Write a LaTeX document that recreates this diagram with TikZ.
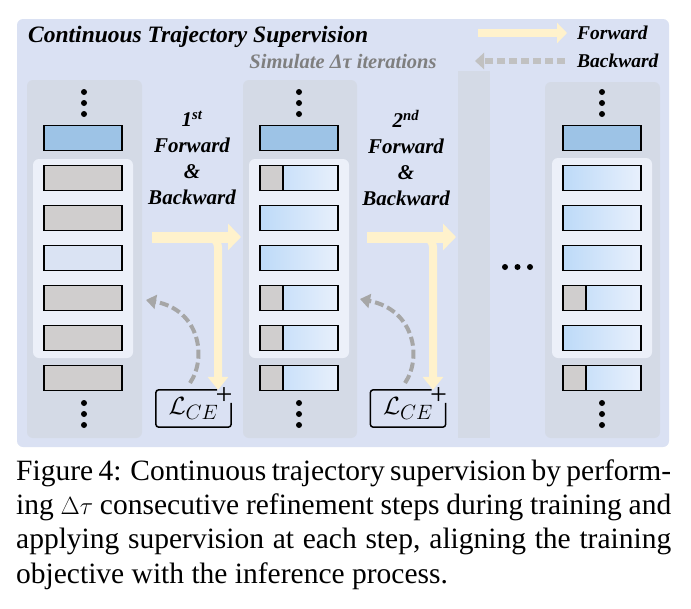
\documentclass[tikz,border=0pt]{standalone}
\usepackage{fontspec}
\setmainfont{Liberation Serif}
\usetikzlibrary{arrows.meta,positioning}

\definecolor{cpanel}{HTML}{DAE1F3}
\definecolor{ccol}{HTML}{D4DAE6}
\definecolor{cinner}{HTML}{ECF0F9}
\definecolor{cblue}{HTML}{9DC3E6}
\definecolor{cgray}{HTML}{D0CECE}
\definecolor{cpale}{HTML}{DAE3F3}
\definecolor{cgradl}{HTML}{BDDAF8}
\definecolor{cgradr}{HTML}{E8F0FC}
\definecolor{cyel}{HTML}{FFF2CC}
\definecolor{carr}{HTML}{A6A6A6}
\definecolor{csim}{HTML}{7F7F7F}

\begin{document}
\begin{tikzpicture}[
    x=1pt, y=-1pt,
    tok/.style={draw=black, line width=1.5pt, minimum width=78pt, minimum height=25pt, inner sep=0pt},
    tblue/.style={tok, fill=cblue},
    tgray/.style={tok, fill=cgray},
    tpale/.style={tok, fill=cpale},
    tgrad/.style={tok, left color=cgradl, right color=cgradr},
    tsplit/.style={tgrad, path picture={
        \fill[cgray] (path picture bounding box.south west) rectangle ([xshift=23pt]path picture bounding box.north west);
        \draw[line width=1.5pt] ([xshift=23pt]path picture bounding box.south west) -- ([xshift=23pt]path picture bounding box.north west);}},
    bold/.style={font=\fontsize{19.5}{22}\selectfont\bfseries\itshape},
    steptext/.style={align=center, font=\fontsize{21}{26}\selectfont\bfseries\itshape},
    fwd/.style={draw=cyel, line width=11pt, -{Triangle[length=13pt,width=26pt]}},
    fwdv/.style={draw=cyel, line width=8pt, rounded corners=10pt, -{Triangle[length=13pt,width=20pt]}},
    back/.style={draw=carr, line width=4pt, dash pattern=on 9pt off 4pt, -{Triangle[length=10pt,width=14pt]}},
    lossbox/.style={minimum width=75pt, minimum height=37pt, inner sep=0pt, font=\fontsize{28}{28}\selectfont},
    caption/.style={anchor=base west, inner sep=0pt, font=\fontsize{29.5}{34}\selectfont}
]
    \useasboundingbox (0,0) rectangle (691,608);

    % backgrounds
    \fill[cpanel, rounded corners=6pt] (17,19) rectangle (669,447);
    \fill[ccol, rounded corners=6pt] (27,80) rectangle (142,438);
    \fill[ccol, rounded corners=6pt] (243,80) rectangle (357,438);
    \fill[ccol] (458,71) rectangle (490,438);
    \fill[ccol, rounded corners=6pt] (545,82) rectangle (660,438);
    \fill[cinner, rounded corners=6pt] (33,159) rectangle (133,358);
    \fill[cinner, rounded corners=6pt] (249,159) rectangle (349,358);
    \fill[cinner, rounded corners=6pt] (552,158) rectangle (652,358);

    \node[anchor=base west, inner sep=0pt, font=\fontsize{23.5}{27}\selectfont\bfseries\itshape] (title) at (28,42) {Continuous Trajectory Supervision};
    \node[font=\fontsize{20.5}{24}\selectfont\bfseries\itshape, text=csim, inner sep=0pt] (sim) at (343,62) {Simulate Δτ iterations};

    % legend
    \node[bold, anchor=west, inner sep=0pt] (lfwd) at (577,33) {Forward};
    \node[bold, anchor=west, inner sep=0pt] (lback) at (577,61) {Backward};
    \coordinate (lf1) at (478,33);
    \coordinate (lb1) at (565,61);
    \coordinate (lb2) at (475,61);
    \draw[draw=cyel, line width=8pt, -{Triangle[length=10pt,width=20pt]}] (lf1) -- ([xshift=-10pt]lfwd.west);
    \draw[draw=carr!70, line width=6pt, dash pattern=on 8pt off 4pt, -{Triangle[length=9pt,width=16pt]}] (lb1) -- (lb2);

    % token columns
    \foreach \s [count=\i] in {tblue,tgray,tgray,tpale,tgray,tgray,tgray}
        \node[\s] (a\i) at (83,{98+40*\i}) {};
    \foreach \s [count=\i] in {tblue,tsplit,tgrad,tgrad,tsplit,tsplit,tsplit}
        \node[\s] (b\i) at (299,{98+40*\i}) {};
    \foreach \s [count=\i] in {tblue,tgrad,tgrad,tgrad,tsplit,tgrad,tsplit}
        \node[\s] (c\i) at (602,{98+40*\i}) {};

    \foreach \x in {84,299,602}
        \foreach \y in {92,103,114,403,414,425}
            \fill (\x,\y) circle (3pt);
    \foreach \x in {505,517.5,530}
        \fill (\x,267) circle (3pt);

    % steps
    \node[steptext] (step1) at (192,158) {1\textsuperscript{st}\\Forward\\\&\\Backward};
    \node[steptext] (step2) at (406,158) {2\textsuperscript{nd}\\Forward\\\&\\Backward};

    \node[lossbox] (loss1) at (193.5,408.5) {$\mathcal{L}_{CE}$};
    \node[lossbox] (loss2) at (408,408.5) {$\mathcal{L}_{CE}$};
    \foreach \l in {loss1,loss2} {
        \draw[line width=1.5pt, rounded corners=3pt] ([xshift=-14pt]\l.north east) -- (\l.north west) -- (\l.south west) -- (\l.south east) -- ([yshift=-13pt]\l.north east);
        \node[inner sep=0pt, font=\fontsize{30}{30}\selectfont] (\l p) at ([xshift=-7pt,yshift=-6pt]\l.north east) {+};
    }

    % forward and backward arrows
    \coordinate (f1s) at (152,237);
    \coordinate (f1e) at (241,237);
    \coordinate (f1j) at (218,237);
    \coordinate (f2s) at (367,237);
    \coordinate (f2e) at (456,237);
    \coordinate (f2j) at (433,237);
    \draw[fwdv] ([xshift=-20pt]f1j) -- (f1j) -- (f1j |- loss1.north);
    \draw[fwdv] ([xshift=-20pt]f2j) -- (f2j) -- (f2j |- loss2.north);
    \draw[fwd] (f1s) -- (f1e);
    \draw[fwd] (f2s) -- (f2e);

    \coordinate (g1s) at (190,383);
    \coordinate (g1e) at (146,300);
    \coordinate (g2s) at (405,383);
    \coordinate (g2e) at (360,299);
    \draw[back] (g1s) .. controls (207,358) and (200,310) .. (g1e);
    \draw[back] (g2s) .. controls (422,358) and (415,310) .. (g2e);

    % caption
    \node[caption] (cap1) at (16,480) {\makebox[655pt][s]{Figure 4: Continuous trajectory supervision by perform-}};
    \node[caption] (cap2) at (16,514) {\makebox[655pt][s]{ing $\Delta\tau$ consecutive refinement steps during training and}};
    \node[caption] (cap3) at (16,548) {\makebox[655pt][s]{applying supervision at each step, aligning the training}};
    \node[caption] (cap4) at (16,583) {objective with the inference process.};
\end{tikzpicture}
\end{document}
